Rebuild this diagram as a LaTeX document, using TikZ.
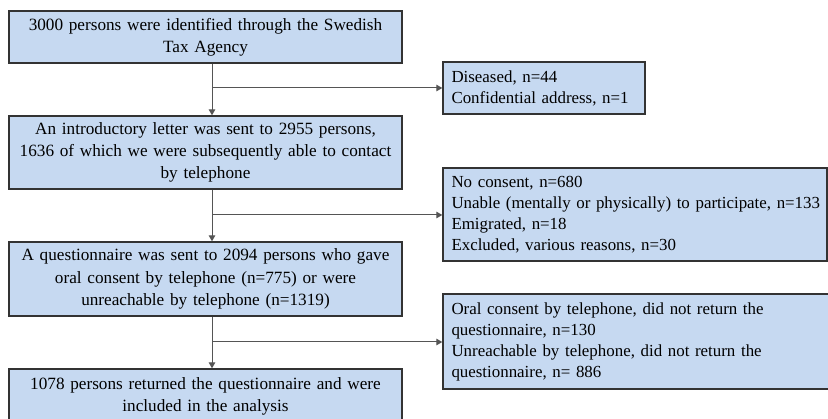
\documentclass[tikz,border=0pt]{standalone}
\usepackage{fontspec}
\setmainfont{Liberation Serif}
\usetikzlibrary{arrows.meta}
\definecolor{boxfill}{HTML}{C6D9F1}
\definecolor{boxline}{HTML}{333333}
\definecolor{connline}{HTML}{555555}
\tikzset{
  box/.style={draw=boxline, line width=1.3pt, fill=boxfill, rectangle, inner sep=0pt,
    font=\fontsize{17.2}{22.2}\selectfont},
  mainbox/.style={box, minimum width=393pt, text width=385pt, align=center},
  sidebox/.style={box, align=left, font=\fontsize{16.9}{21}\selectfont},
  conn/.style={draw=connline, line width=1pt},
  arr/.style={conn, -{Triangle[length=6pt,width=6.5pt]}}
}
\begin{document}
\begin{tikzpicture}[x=1pt,y=-1pt]
\useasboundingbox (0,0) rectangle (828,419);
\clip (0,0) rectangle (828,419);
\node[mainbox, minimum height=52pt] (b1) at (205.5,37) {3000 persons were identified through the Swedish\\Tax Agency};
\node[mainbox, minimum height=73pt] (b2) at (205.5,152.5) {An introductory letter was sent to 2955 persons,\\1636 of which we were subsequently able to contact\\by telephone};
\node[mainbox, minimum height=74pt] (b3) at (205.5,279) {A questionnaire was sent to 2094 persons who gave\\oral consent by telephone (n=775) or were\\unreachable by telephone (n=1319)};
\node[mainbox, minimum height=54pt] (b4) at (205.5,396) {1078 persons returned the questionnaire and were\\included in the analysis};
\node[sidebox, minimum width=202pt, minimum height=52pt, text width=185pt] (r1) at (544,88) {Diseased, n=44\\Confidential address, n=1};
\node[sidebox, minimum width=384pt, minimum height=93pt, text width=367pt] (r2) at (635,214.5) {No consent, n=680\\\mbox{Unable (mentally or physically) to participate, n=133}\\Emigrated, n=18\\Excluded, various reasons, n=30};
\node[sidebox, minimum width=417pt, minimum height=95pt, text width=400pt] (r3) at (651.5,341.5) {Oral consent by telephone, did not return the\\questionnaire, n=130\\Unreachable by telephone, did not return the\\questionnaire, n= 886};
\coordinate (j1) at (212,88);
\coordinate (j2) at (212,215);
\coordinate (j3) at (212,342);
\draw[arr] (j1 |- b1.south) -- (j1 |- b2.north);
\draw[arr] (j2 |- b2.south) -- (j2 |- b3.north);
\draw[arr] (j3 |- b3.south) -- (j3 |- b4.north);
\draw[arr] (j1) -- (r1.west |- j1);
\draw[arr] (j2) -- (r2.west |- j2);
\draw[arr] (j3) -- (r3.west |- j3);
\end{tikzpicture}
\end{document}
